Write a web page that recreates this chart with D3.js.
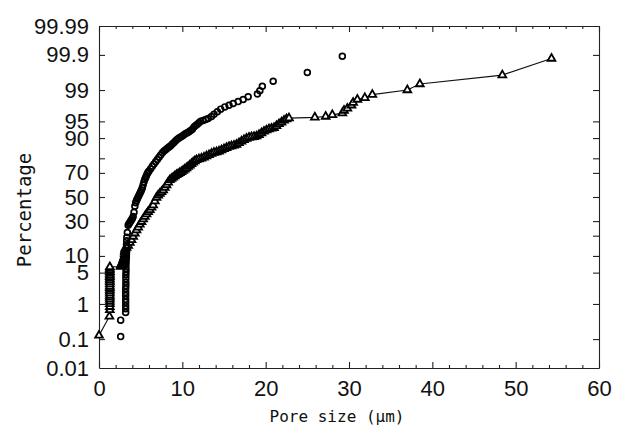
<!DOCTYPE html>
<html>
<head>
<meta charset="utf-8">
<script src="https://cdn.jsdelivr.net/npm/d3@7"></script>
<style>
  body { margin: 0; background: #fff; }
  svg { display: block; }
  text { fill: #111; }
</style>
</head>
<body>
<script>
// series A: open circles (no line)
const sizeA = [2.6, 2.6,
  3.2, 3.2, 3.2, 3.2, 3.2, 3.2, 3.2, 3.2, 3.22, 3.22, 3.22, 3.22, 3.24, 3.24, 3.24, 3.26, 3.26, 3.28, 3.28, 3.3, 3.3, 3.32, 3.34,
  3.4, 3.5, 3.6, 3.7, 3.8, 3.9, 4.0, 4.1, 4.2, 4.3, 4.4, 4.5, 4.6, 4.7, 4.8, 4.9, 5.0, 5.1, 5.2, 5.3, 5.4, 5.5, 5.6, 5.7, 5.8, 5.9, 6.0,
  6.2, 6.4, 6.6, 6.8, 7.0, 7.2, 7.4, 7.6, 7.8, 8.0, 8.2, 8.4, 8.6, 8.8, 9.0, 9.2, 9.4, 9.6, 9.8, 10.0, 10.2, 10.4, 10.6, 10.8,
  11.0, 11.2, 11.4, 11.6, 11.8, 12.0, 12.2, 12.5, 12.8, 13.1, 13.5, 13.8, 14.2, 14.6, 15.1, 15.6, 16.1, 16.7, 17.3, 17.9,
  19.0, 19.3, 19.6, 20.9, 25.0, 29.2];
const percentA = [0.12, 0.37,
  0.6, 0.75, 0.9, 1.1, 1.3, 1.6, 1.9, 2.3, 2.7, 3.2, 3.8, 4.5, 5.2, 6, 7, 8, 9.2, 10.5, 12, 13.5, 15, 17, 19,
  22, 27, 28, 29, 30, 31, 32, 33.5, 37, 42, 45, 47, 48.5, 50, 51.5, 53, 54.5, 56, 58, 60.5, 63, 65, 66.5, 68, 69.5, 70.5, 71.5,
  73, 74.8, 76.3, 77.8, 79.2, 80.6, 82, 83.2, 84.1, 84.8, 85.5, 86.1, 86.8, 87.5, 88.2, 88.9, 89.5, 90, 90.4, 90.8, 91.2, 91.6, 91.9, 92.2,
  92.6, 93.0, 93.6, 94.0, 94.3, 94.7, 95.0, 95.2, 95.4, 95.6, 96.0, 96.4, 96.8, 97.2, 97.5, 97.7, 97.9, 98.1, 98.3, 98.54,
  98.75, 98.96, 99.2, 99.41, 99.66, 99.89];

// series B: open triangles joined by a line
const sizeB = [0, 1.25,
  1.3, 1.3, 1.3, 1.3, 1.3, 1.3, 1.3, 1.3, 1.3, 1.3, 1.3, 1.3, 1.3, 1.3, 1.3, 1.3, 1.3, 1.3, 1.3, 1.3, 1.3, 1.3, 1.3,
  2.6, 2.65, 2.7, 2.75, 2.8, 2.85, 2.9, 2.95, 3.0, 3.05,
  3.1, 3.1, 3.1, 3.12, 3.14, 3.16,
  3.3, 3.5, 3.7, 3.9, 4.1, 4.3, 4.5, 4.7, 4.9, 5.1, 5.3, 5.5, 5.7, 5.9, 6.1, 6.3, 6.5, 6.7, 6.9, 7.1, 7.3, 7.5, 7.7, 7.9,
  8.1, 8.3, 8.5, 8.7, 8.9, 9.1, 9.3, 9.5, 9.7, 9.9, 10.1, 10.3, 10.5, 10.7, 10.9, 11.1, 11.3, 11.5, 11.7,
  12.0, 12.3, 12.6, 12.9, 13.2, 13.5, 13.8, 14.1, 14.4, 14.7, 15.0, 15.3, 15.6, 15.9, 16.2, 16.5, 16.8, 17.1, 17.4, 17.7,
  18.0, 18.3, 18.6, 18.9, 19.2, 19.5, 19.8, 20.1, 20.4, 20.7, 21.0, 21.3, 21.6, 21.9, 22.2, 22.5, 22.8,
  25.9, 27.2, 28.0, 29.2, 29.4, 29.8, 30.3, 30.5, 31.0, 31.9, 32.8, 37.0, 38.5, 48.4, 54.3];
const percentB = [0.13, 0.47,
  0.7, 0.85, 1.0, 1.15, 1.3, 1.45, 1.6, 1.8, 2.0, 2.2, 2.4, 2.6, 2.9, 3.2, 3.5, 3.8, 4.1, 4.4, 4.8, 5.2, 5.6, 6.0, 6.4,
  6.5, 6.8, 7.1, 7.4, 7.7, 8.0, 8.4, 8.8, 9.2, 9.7,
  10.2, 10.8, 11.4, 12.0, 12.6, 13.2,
  13.6, 14.5, 16, 17.5, 19.5, 21.5, 23.6, 25.5, 27.5, 29.5, 31.5, 33.5, 35.5, 37.3, 39, 41, 43, 46.5, 49.5, 51.5, 53, 54.5, 56, 58,
  60.3, 62.5, 64.5, 65.5, 66.5, 67.5, 68.5, 69.2, 70, 70.8, 71.7, 72.6, 73.5, 74.5, 75.5, 76.5, 77.5, 78.3, 79,
  79.5, 80, 80.6, 81.3, 82, 82.8, 83.3, 83.6, 84, 84.6, 85.2, 85.8, 86.3, 86.6, 86.9, 87.3, 88, 88.7, 89.3, 89.8,
  90.2, 90.4, 90.5, 90.7, 91.2, 91.8, 92.3, 92.7, 93.0, 93.2, 93.4, 93.9, 94.4, 94.8, 95.2, 95.5, 95.7,
  95.85, 96.0, 96.3, 96.6, 97.0, 97.3, 97.7, 98.0, 98.3, 98.45, 98.7, 99.0, 99.3, 99.6, 99.87];

const xMajor = [0, 10, 20, 30, 40, 50, 60];
const xMinor = [2, 4, 6, 8, 12, 14, 16, 18, 22, 24, 26, 28, 32, 34, 36, 38, 42, 44, 46, 48, 52, 54, 56, 58];
const yLabels = ['99.99', '99.9', '99', '95', '90', '70', '50', '30', '10', '5', '1', '0.1', '0.01'];
const yTicks = [99.9, 99, 95, 90, 80, 70, 50, 30, 20, 10, 5, 1, 0.1];

const width = 618, height = 431,
      margin = { left: 99, right: 19, top: 26, bottom: 63 };

// inverse normal CDF (Acklam) for the probability axis
function probit(p) {
  const a = [-39.69683028665376, 220.9460984245205, -275.9285104469687, 138.3577518672690, -30.66479806614716, 2.506628277459239],
        b = [-54.47609879822406, 161.5858368580409, -155.6989798598866, 66.80131188771972, -13.28068155288572],
        c = [-0.007784894002430293, -0.3223964580411365, -2.400758277161838, -2.549671348850490, 4.374664141464968, 2.938163982698783],
        d = [0.007784695709041462, 0.3224671290700398, 2.445134137142996, 3.754408661907416];
  const pl = 0.02425;
  let q, r;
  if (p < pl) {
    q = Math.sqrt(-2 * Math.log(p));
    return (((((c[0]*q+c[1])*q+c[2])*q+c[3])*q+c[4])*q+c[5]) / ((((d[0]*q+d[1])*q+d[2])*q+d[3])*q+1);
  }
  if (p > 1 - pl) {
    q = Math.sqrt(-2 * Math.log(1 - p));
    return -(((((c[0]*q+c[1])*q+c[2])*q+c[3])*q+c[4])*q+c[5]) / ((((d[0]*q+d[1])*q+d[2])*q+d[3])*q+1);
  }
  q = p - 0.5; r = q * q;
  return (((((a[0]*r+a[1])*r+a[2])*r+a[3])*r+a[4])*r+a[5])*q / (((((b[0]*r+b[1])*r+b[2])*r+b[3])*r+b[4])*r+1);
}
const z = pct => probit(pct / 100);

const xScale = d3.scaleLinear().domain([0, 60]).range([margin.left, width - margin.right]),
      yScale = d3.scaleLinear().domain([z(0.01), z(99.99)]).range([height - margin.bottom, margin.top]);

const svg = d3.select('body').append('svg')
              .attr('width', width)
              .attr('height', height);

const plotB = sizeB.map((s, i) => [s, percentB[i]]),
      plotA = sizeA.map((s, i) => [s, percentA[i]]);

// axes (frame with inward ticks)
const bottomY = height - margin.bottom, rightX = width - margin.right;

function styleAxis(g) {
  g.selectAll('path, line').attr('stroke', '#222').attr('stroke-width', 1.1);
  g.selectAll('text')
   .attr('font-family', '"Liberation Sans", Arial, sans-serif')
   .attr('font-size', 22)
   .attr('fill', '#111');
}

svg.append('g').attr('transform', 'translate(0,' + bottomY + ')')
   .call(d3.axisBottom(xScale).tickValues(xMajor).tickSizeInner(-6).tickSizeOuter(0).tickPadding(12))
   .call(styleAxis);
svg.append('g').attr('transform', 'translate(0,' + bottomY + ')')
   .call(d3.axisBottom(xScale).tickValues(xMinor).tickSizeInner(-3).tickSizeOuter(0).tickFormat(''))
   .call(g => g.select('.domain').remove()).call(styleAxis);
svg.append('g').attr('transform', 'translate(0,' + margin.top + ')')
   .call(d3.axisTop(xScale).tickValues(xMajor).tickSizeInner(-6).tickSizeOuter(0).tickFormat(''))
   .call(styleAxis);
svg.append('g').attr('transform', 'translate(0,' + margin.top + ')')
   .call(d3.axisTop(xScale).tickValues(xMinor).tickSizeInner(-3).tickSizeOuter(0).tickFormat(''))
   .call(g => g.select('.domain').remove()).call(styleAxis);

svg.append('g').attr('transform', 'translate(' + margin.left + ',0)')
   .call(d3.axisLeft(yScale).tickValues(yTicks.map(z)).tickSizeInner(-6).tickSizeOuter(0).tickFormat(''))
   .call(styleAxis);
svg.append('g').attr('transform', 'translate(' + margin.left + ',0)')
   .call(d3.axisLeft(yScale).tickValues(yLabels.map(l => z(+l))).tickSize(0).tickPadding(10)
          .tickFormat((d, i) => yLabels[i]))
   .call(g => g.select('.domain').remove()).call(styleAxis);
svg.append('g').attr('transform', 'translate(' + rightX + ',0)')
   .call(d3.axisRight(yScale).tickValues(yTicks.map(z)).tickSizeInner(-6).tickSizeOuter(0).tickFormat(''))
   .call(styleAxis);

// series B line + triangles
const line = d3.line().x(d => xScale(d[0])).y(d => yScale(z(d[1])));
svg.append('path')
   .datum(plotB)
   .attr('d', line)
   .attr('fill', 'none')
   .attr('stroke', '#111')
   .attr('stroke-width', 1.2);

const tri = d3.symbol().type(d3.symbolTriangle).size(26);
svg.append('g').selectAll('path')
   .data(plotB)
   .enter()
   .append('path')
   .attr('d', tri)
   .attr('transform', d => 'translate(' + xScale(d[0]) + ',' + yScale(z(d[1])) + ')')
   .attr('fill', '#fff')
   .attr('stroke', '#000')
   .attr('stroke-width', 1.8);

// series A circles
svg.append('g').selectAll('circle')
   .data(plotA)
   .enter()
   .append('circle')
   .attr('cx', d => xScale(d[0]))
   .attr('cy', d => yScale(z(d[1])))
   .attr('r', 2.9)
   .attr('fill', 'none')
   .attr('stroke', '#000')
   .attr('stroke-width', 1.7);

// axis titles
svg.append('text')
   .attr('transform', 'translate(31,210) rotate(-90)')
   .attr('text-anchor', 'middle')
   .attr('font-family', '"DejaVu Sans Mono", monospace')
   .attr('font-size', 19)
   .text('Percentage');

svg.append('text')
   .attr('x', 337)
   .attr('y', 422)
   .attr('text-anchor', 'middle')
   .attr('font-family', '"DejaVu Sans Mono", monospace')
   .attr('font-size', 16)
   .text('Pore size (µm)');
</script>
</body>
</html>
